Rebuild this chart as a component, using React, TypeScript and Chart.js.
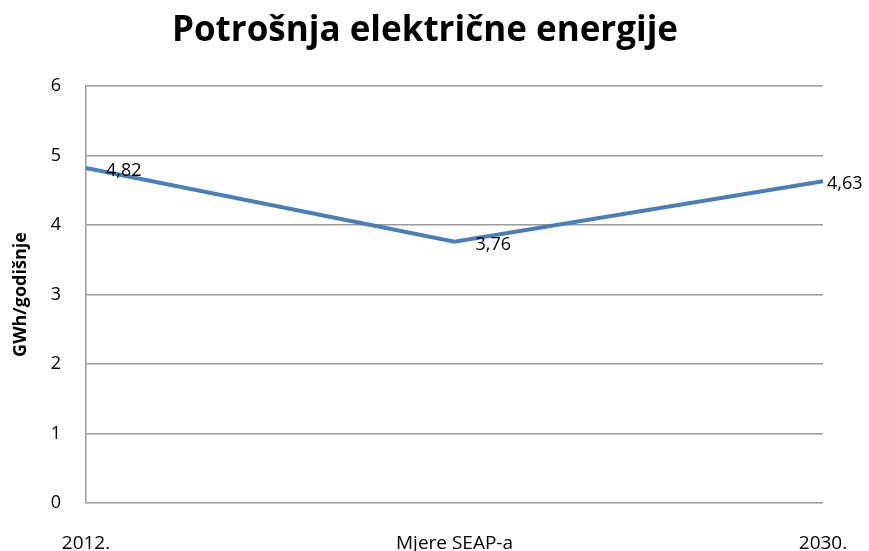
import React, { useEffect, useRef } from "react";
import { Chart, registerables } from "chart.js";

Chart.register(...registerables);

const categories = ["2012.", "Mjere SEAP-a", "2030."];
const consumption = [4.82, 3.76, 4.63];
const valueLabels = ["4,82", "3,76", "4,63"];
const titleText = "Potrošnja električne energije";
const yAxisTitle = "GWh/godišnje";

const FONT = "'Open Sans', 'DejaVu Sans', sans-serif";

const labelPlugin = {
  id: "valueLabels",
  afterDatasetsDraw(chart: any) {
    const ctx = chart.ctx;
    const meta = chart.getDatasetMeta(0);
    const offsets = [20, 21, 4];
    ctx.save();
    ctx.font = `18px ${FONT}`;
    ctx.fillStyle = "#000";
    ctx.textAlign = "left";
    ctx.textBaseline = "middle";
    meta.data.forEach((pt: any, i: number) => {
      ctx.fillText(valueLabels[i], pt.x + offsets[i], pt.y + 3);
    });
    ctx.restore();
  },
};

const titlePlugin = {
  id: "customTitle",
  afterDraw(chart: any) {
    const ctx = chart.ctx;
    ctx.save();
    ctx.font = `bold 35px ${FONT}`;
    ctx.fillStyle = "#000";
    ctx.textAlign = "center";
    ctx.textBaseline = "middle";
    ctx.fillText(titleText, 425, 31);
    ctx.restore();
  },
};

export default function App() {
  const ref = useRef<HTMLCanvasElement>(null);
  useEffect(() => {
    const chart = new Chart(ref.current as HTMLCanvasElement, {
      type: "line",
      data: {
        labels: categories,
        datasets: [
          {
            data: consumption,
            borderColor: "#4a7ebb",
            borderWidth: 4,
            pointRadius: 0,
            tension: 0,
            fill: false,
          },
        ],
      },
      options: {
        animation: false,
        responsive: true,
        maintainAspectRatio: false,
        layout: { padding: { left: 0, right: 46, top: 86, bottom: 0 } },
        plugins: {
          legend: { display: false },
          tooltip: { enabled: false },
          title: { display: false },
        },
        scales: {
          x: {
            offset: false,
            grid: { display: false, drawTicks: false },
            border: { display: false },
            ticks: {
              color: "#000",
              font: { family: FONT, size: 19 },
              padding: 29,
              maxRotation: 0,
              autoSkip: false,
            },
            afterFit(scale: any) {
              scale.height = 48;
              scale.paddingLeft = 0;
              scale.paddingRight = 0;
            },
          },
          y: {
            min: 0,
            max: 6,
            grid: { color: "#999999", lineWidth: 1.5, drawTicks: false },
            border: { display: true, color: "#999999", width: 1.5 },
            ticks: {
              stepSize: 1,
              color: "#000",
              font: { family: FONT, size: 18 },
              padding: 25,
            },
            title: {
              display: true,
              text: yAxisTitle,
              color: "#000",
              font: { family: FONT, size: 18, weight: "bold" },
              padding: { top: 10, bottom: 0 },
            },
            afterFit(scale: any) {
              scale.width = 86;
            },
          },
        },
      },
      plugins: [labelPlugin, titlePlugin],
    });
    return () => chart.destroy();
  }, []);
  return (
    <div style={{ position: "fixed", left: 0, top: 0, width: 869, height: 551, background: "#fff" }}>
      <canvas ref={ref} />
    </div>
  );
}
